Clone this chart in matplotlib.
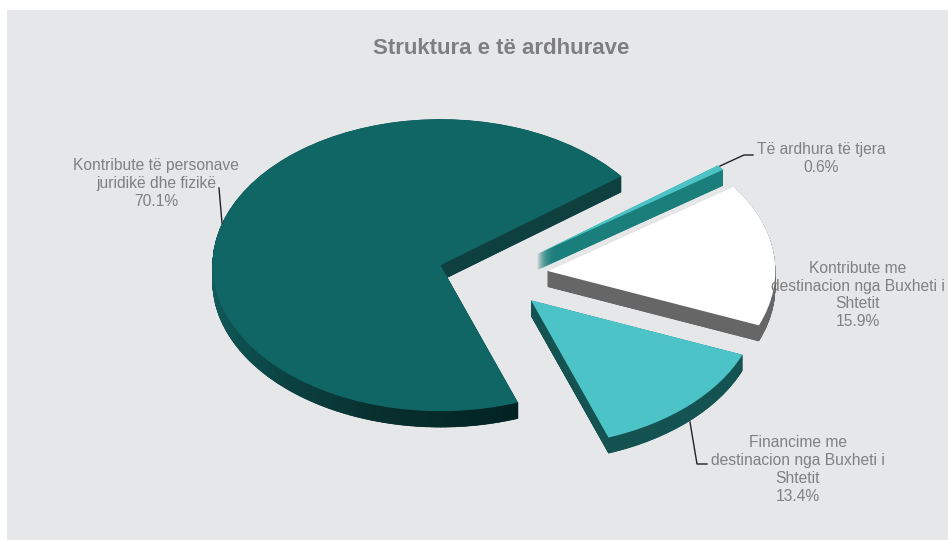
import matplotlib
matplotlib.use("Agg")
import matplotlib.pyplot as plt
import numpy as np
from matplotlib.collections import PolyCollection
from matplotlib.colors import LinearSegmentedColormap
from matplotlib.lines import Line2D
from matplotlib.patches import Rectangle

plt.rcParams['font.family'] = ['Liberation Sans', 'DejaVu Sans']

W, H = 948, 540

title = "Struktura e të ardhurave"
labels = [
    "Kontribute të personave\njuridikë dhe fizikë\n70.1%",
    "Financime me\ndestinacion nga Buxheti i\nShtetit\n13.4%",
    "Kontribute me\ndestinacion nga Buxheti i\nShtetit\n15.9%",
    "Të ardhura të tjera\n0.6%",
]
values = [70.1, 13.4, 15.9, 0.6]
top_colors = ["#106665", "#4cc3c6", "#ffffff", "#4cc3c6"]
side_colors = ["#0f4040", "#155352", "#666666", "#1a7e7b"]

# pie centre and ellipse radii in pixels
CX, CY = 493, 275
RX, RY = 228, 146
DEPTH = 16
EXPLODE = 0.24
START = 37.5


def fx(px):
    return px / W


def fy(py):
    return 1 - py / H


fig = plt.figure(figsize=(W / 100, H / 100), dpi=100, facecolor="white")
fig.add_artist(Rectangle((fx(7), 0), 1 - fx(7), fy(10), transform=fig.transFigure,
                         facecolor="#e6e7e9", edgecolor="none", zorder=-1))

ax = fig.add_axes([0, 0, 1, 1])
ax.patch.set_visible(False)

# side of the slices: same pie stacked downwards in small steps
# (thin slice shows gaps if the step is a whole pixel)
for d in np.arange(DEPTH, 0, -0.25):
    ax.pie(values, colors=side_colors, explode=[EXPLODE] * 4, startangle=START,
           center=(0, -d / RY), normalize=True, wedgeprops={"linewidth": 0})

wedges, _ = ax.pie(values, colors=top_colors, explode=[EXPLODE] * 4, startangle=START,
                   center=(0, 0), normalize=True, wedgeprops={"linewidth": 0})
for w in wedges:
    w.set_zorder(5)

# shaded rim of the big slice, darker towards its front end
main = wedges[0]
rim_cmap = LinearSegmentedColormap.from_list(
    "rim", ["#0f6160", "#0d4a4a", "#08302f", "#012222"])
angles = np.linspace(max(main.theta1, 180), main.theta2, 90)
quads = []
for a0, a1 in zip(angles[:-1], angles[1:]):
    x0, y0 = main.center[0] + np.cos(np.radians(a0)), main.center[1] + np.sin(np.radians(a0))
    x1, y1 = main.center[0] + np.cos(np.radians(a1)), main.center[1] + np.sin(np.radians(a1))
    dy = DEPTH / RY
    quads.append([(x0, y0), (x1, y1), (x1, y1 - dy), (x0, y0 - dy)])
shade = (angles[:-1] - angles[0]) / (angles[-1] - angles[0])
ax.add_collection(PolyCollection(quads, facecolors=rim_cmap(shade), edgecolors=rim_cmap(shade),
                                 linewidths=0.4, zorder=4))

ax.set_aspect("auto")
ax.set_xlim(-CX / RX, (W - CX) / RX)
ax.set_ylim((CY - H) / RY, CY / RY)
ax.axis("off")

# title and labels
fig.text(fx(501.5), fy(49), title, ha="center", va="center", fontsize=16,
         fontweight="bold", color="#7f7f7f")

label_pos = [(156, 183.5), (798, 469.5), (858, 295), (821, 158.5)]
for txt, (px, py) in zip(labels, label_pos):
    t = fig.text(fx(px), fy(py), txt, ha="center", va="center", fontsize=11.25,
                 color="#808080", linespacing=1.24, zorder=10)

leader_x = [[219, 222], [690, 697, 707], [], [720, 744, 753]]
leader_y = [[188, 223], [422, 464, 464], [], [166, 155, 155]]
for xs, ys in zip(leader_x, leader_y):
    if xs:
        fig.add_artist(Line2D([fx(v) for v in xs], [fy(v) for v in ys],
                              transform=fig.transFigure, color="#222222", lw=1.0, zorder=9))

fig.savefig("out.png", dpi=100)
